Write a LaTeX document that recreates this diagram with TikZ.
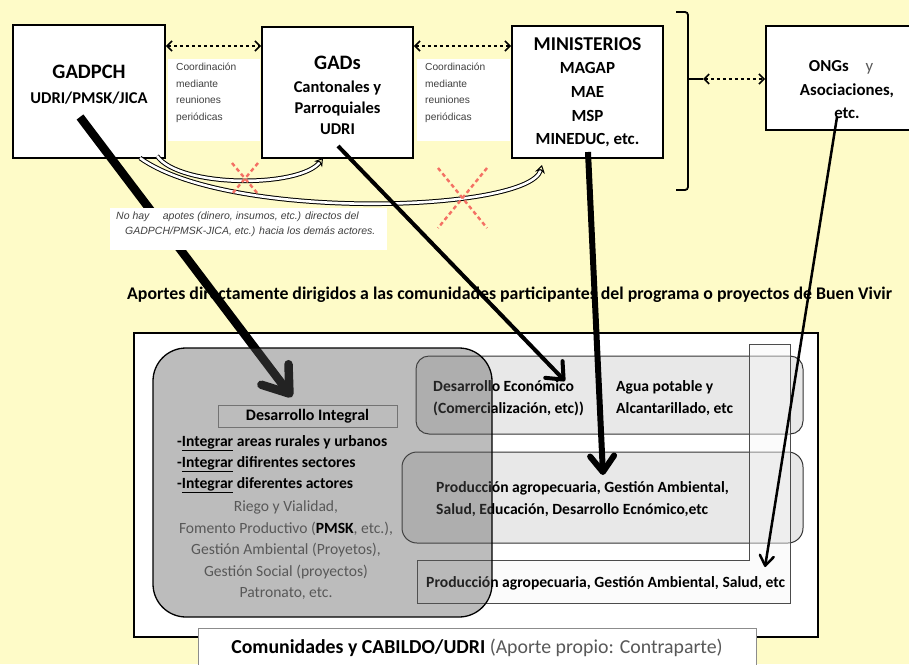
\documentclass[tikz,border=0pt]{standalone}
\usepackage{fontspec}
\setmainfont{Carlito}
\newfontfamily\arialf{Liberation Sans}
\usetikzlibrary{arrows.meta}
\definecolor{fondo}{RGB}{254,251,200}
\definecolor{cruz}{RGB}{244,112,100}
\definecolor{grisclaro}{RGB}{232,232,232}
\definecolor{grisL}{RGB}{247,247,247}
\definecolor{gristxt}{RGB}{88,88,88}
\definecolor{grisvelo}{RGB}{88,88,88}
\newcommand{\fsz}[2]{\fontsize{#1}{#2}\selectfont}
\begin{document}
\begin{tikzpicture}[x=1pt,y=-1pt,
  every node/.style={inner sep=0pt},
  actor/.style={draw, line width=1.8pt, fill=white},
  ttl/.style={font=\bfseries\fsz{20.5}{22}},
  sub/.style={font=\bfseries\fsz{16.5}{18}},
  coord/.style={dashed, line width=1.6pt,
    {Straight Barb[length=5pt,width=10pt]}-{Straight Barb[length=5pt,width=10pt]}},
  nota/.style={fill=white, minimum width=92, minimum height=82},
  notatxt/.style={font=\arialf\fsz{10.2}{16.5}, align=left, anchor=north west, text=black!75},
  band/.style={line width=1pt, double=white, double distance=2.6pt,
    -{Stealth[open,length=8pt,width=10pt]}},
  cruzst/.style={draw=cruz, dash pattern=on 4pt off 3pt, line width=2.4pt},
  caja/.style={draw=black!80, line width=1pt, fill=grisclaro, rounded corners=13},
  cajatxt/.style={font=\bfseries\fsz{15.6}{22}, align=left, anchor=west},
  listatxt/.style={font=\bfseries\fsz{15.6}{21}, align=left, anchor=west},
  grisline/.style={font=\fsz{15.6}{21.5}, text=gristxt, align=center},
  flecha/.style n args={3}{line width=#1pt, -{Straight Barb[length=#2pt, width=#3pt, round]}},
]
\clip (0,0) rectangle (909,664);
\fill[fondo] (0,0) rectangle (909,664);

% actores de arriba
\node[actor, minimum width=152, minimum height=133] (gadpch) at (89,91.5) {};
\node[ttl] (gadpchT) at (89,72) {GADPCH};
\node[sub] (gadpchS) at (89,98) {UDRI/PMSK/JICA};

\node[actor, minimum width=151, minimum height=131] (gads) at (337.5,92.5) {};
\node[ttl] (gadsT) at (337.5,63) {GADs};
\node[sub, align=center, font=\bfseries\fsz{16.5}{21}] (gadsS) at (337.5,108) {Cantonales y\\Parroquiales\\UDRI};

\node[actor, minimum width=151, minimum height=132] (minis) at (587.5,92) {};
\node[ttl, font=\bfseries\fsz{19.6}{22}] (minisT) at (587.5,44) {MINISTERIOS};
\node[sub, align=center, font=\bfseries\fsz{17}{23.7}] (minisS) at (587.5,105) {MAGAP\\MAE\\MSP\\MINEDUC, etc.};

\node[actor, minimum width=164, minimum height=104] (ongs) at (848,78) {};
\node[sub, font=\bfseries\fsz{16.8}{18}] (ongsT) at (841,67) {ONGs\quad{\mdseries\color{gristxt}y}};
\node[sub, align=center, font=\bfseries\fsz{16.8}{23}] (ongsS) at (847,101) {Asociaciones,\\etc.};

% coordinacion
\draw[coord] (gadpch.east |- 0,46) -- (gads.west |- 0,46);
\draw[coord] (gads.east |- 0,46) -- (minis.west |- 0,46);
\node[nota] (nota1) at (214,100) {};
\node[notatxt] (nota1T) at (176,63) {Coordinación\\mediante\\reuniones\\periódicas};
\node[nota, minimum width=93] (nota2) at (463.5,100) {};
\node[notatxt] (nota2T) at (425,63) {Coordinación\\mediante\\reuniones\\periódicas};

% llave y ONGs
\draw[line width=1.8pt, rounded corners=3pt] (676,12) -- (688,12) -- (688,190) -- (676,190);
\coordinate (llave) at (688,79);
\coordinate (llaveD) at (703,79);
\draw[line width=1.8pt] (llave) -- (llaveD);
\draw[coord] (llaveD) -- (ongs.west |- llave);

% aportes cortados
\draw[band] (140,158) .. controls (230,222) and (530,212) .. (542,165);
\draw[band] (157,156) .. controls (180,188) and (300,188) .. (323,158);
\draw[cruzst] (232,163) -- (258,194) (258,163) -- (232,194);
\draw[cruzst] (438,168) -- (487,228) (487,168) -- (438,228);

% comunidades
\draw[line width=2.6pt, fill=white] (134,333) rectangle (818,637);
\node[caja, minimum width=387, minimum height=78] (econ) at (609.5,395) {};
\node[caja, rounded corners=15, minimum width=401, minimum height=91] (prod) at (602.5,497.5) {};
\draw[draw=black!70, line width=1pt, fill=grisL, fill opacity=0.45]
  (417,560) -- (749,560) -- (749,344) -- (790,344) -- (790,603) -- (417,603) -- cycle;

\node[cajatxt] (econT) at (433,398) {Desarrollo Económico\\(Comercialización, etc))};
\node[cajatxt] (aguaT) at (616,398) {Agua potable y\\Alcantarillado, etc};
\node[cajatxt] (prodT) at (436,499.5) {Producción agropecuaria, Gestión Ambiental,\\Salud, Educación, Desarrollo Ecnómico,etc};
\node[cajatxt] (ongsT2) at (426,583) {Producción agropecuaria, Gestión Ambiental, Salud, etc};

% aportes directos
\coordinate (a1) at (80,117);  \coordinate (b1) at (292,397);
\coordinate (a2) at (338,146); \coordinate (b2) at (565,381);
\coordinate (a3) at (588,152); \coordinate (b3) at (603,475);
\coordinate (a4) at (837,117); \coordinate (b4) at (765,567);
\draw[flecha={8.5}{24}{34}] (a1) -- (b1);
\draw[flecha={4}{14}{24}] (a2) -- (b2);
\draw[flecha={6}{16}{24}] (a3) -- (b3);
\draw[flecha={2.5}{10}{14}] (a4) -- (b4);

\node[fill=white, minimum width=277, minimum height=42] (nohay) at (248.5,229) {};
\node[font=\arialf\itshape\fsz{10.5}{15}, text=black!75, align=left, anchor=north west] (nohayT) at (116,212)
  {No hay\quad\ apotes (dinero, insumos, etc.) directos del\\
   \hspace*{9pt}GADPCH/PMSK-JICA, etc.) hacia los demás actores.};

\node[font=\bfseries\fsz{17.8}{19}, anchor=west] (aportes) at (127,295)
  {Aportes directamente dirigidos a las comunidades participantes del programa o proyectos de Buen Vivir};

% desarrollo integral
\draw[line width=1.3pt, fill=grisvelo, fill opacity=0.4, rounded corners=33] (153,348) rectangle (492,617);
\node[draw=black!55, line width=1pt, minimum width=179, minimum height=22, font=\bfseries\fsz{16}{18}] (integ) at (307.5,416) {Desarrollo Integral};
\node[listatxt] (lista) at (177,464)
  {-\underline{Integrar} areas rurales y urbanos\\-\underline{Integrar} difirentes sectores\\-\underline{Integrar} diferentes actores};
\node[grisline] (temas) at (286,550.5)
  {Riego y Vialidad,\\Fomento Productivo ({\bfseries\color{black}PMSK}, etc.),\\Gestión Ambiental (Proyetos),\\Gestión Social (proyectos)\\Patronato, etc.};

\node[draw=black!45, line width=1pt, fill=white, minimum width=558, minimum height=40, font=\fsz{19.8}{22}] (comun) at (477,648)
  {\bfseries Comunidades y CABILDO/UDRI \mdseries\color{gristxt}(Aporte propio: Contraparte)};
\end{tikzpicture}
\end{document}
